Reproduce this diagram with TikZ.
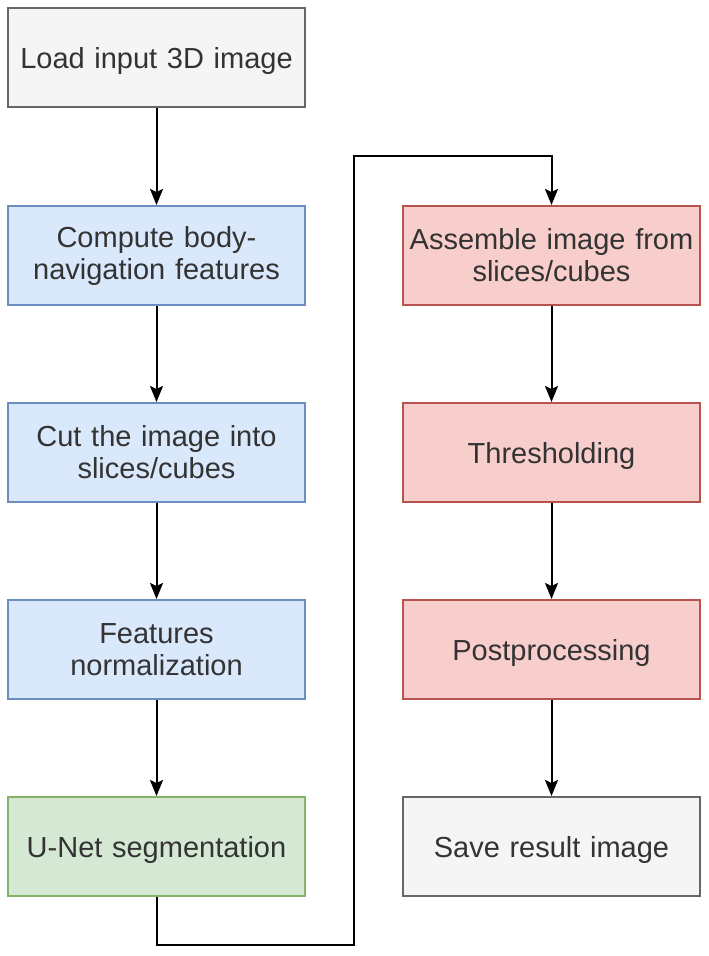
\documentclass[tikz,border=0pt]{standalone}
\usepackage{fontspec}
\setmainfont{Liberation Sans}
\usetikzlibrary{arrows.meta,positioning}
\definecolor{grayfill}{HTML}{F5F5F5}
\definecolor{graydraw}{HTML}{666666}
\definecolor{bluefill}{HTML}{DAE8FC}
\definecolor{bluedraw}{HTML}{6C8EBF}
\definecolor{redfill}{HTML}{F8CECC}
\definecolor{reddraw}{HTML}{B85450}
\definecolor{greenfill}{HTML}{D5E8D4}
\definecolor{greendraw}{HTML}{82B366}
\definecolor{textgray}{HTML}{333333}
\tikzset{>={Stealth[length=16pt,width=13pt,inset=3pt]}}
\tikzset{
  stepbox/.style={rectangle,draw,line width=2pt,minimum width=297pt,minimum height=99pt,
    text width=285pt,align=center,text=textgray,
    font=\fontsize{29}{32}\selectfont},
  single/.style={text depth=0pt},
  io/.style={stepbox,fill=grayfill,draw=graydraw},
  prep/.style={stepbox,fill=bluefill,draw=bluedraw},
  net/.style={stepbox,fill=greenfill,draw=greendraw},
  post/.style={stepbox,fill=redfill,draw=reddraw},
  flow/.style={->,line width=2pt}
}
\begin{document}
\begin{tikzpicture}[x=1pt,y=-1pt]
    \useasboundingbox (0,0) rectangle (709,956);

    \node[io,single]   (load)     at (156.5,57.5)  {Load input 3D image};
    \node[prep] (features) at (156.5,255.5) {Compute body-\\navigation features};
    \node[prep] (cut)      at (156.5,452.5) {Cut the image into\\slices/cubes};
    \node[prep] (norm)     at (156.5,649.5) {Features\\normalization};
    \node[net,single]  (unet)     at (156.5,846.5) {U-Net segmentation};

    \node[post] (assemble) at (551.5,255.5) {Assemble image from\\slices/cubes};
    \node[post,single] (thresh)   at (551.5,452.5) {Thresholding};
    \node[post,single] (postproc) at (551.5,649.5) {Postprocessing};
    \node[io,single]   (save)     at (551.5,846.5) {Save result image};

    \coordinate (D1) at (156.5,945);
    \coordinate (D2) at (354,945);
    \coordinate (D3) at (354,156);
    \coordinate (D4) at (551.5,156);

    \draw[flow](load)--(features);
    \draw[flow](features)--(cut);
    \draw[flow](cut)--(norm);
    \draw[flow](norm)--(unet);
    \draw[flow](unet.south)--(D1)--(D2)--(D3)--(D4)--(assemble.north);
    \draw[flow](assemble)--(thresh);
    \draw[flow](thresh)--(postproc);
    \draw[flow](postproc)--(save);
\end{tikzpicture}
\end{document}
